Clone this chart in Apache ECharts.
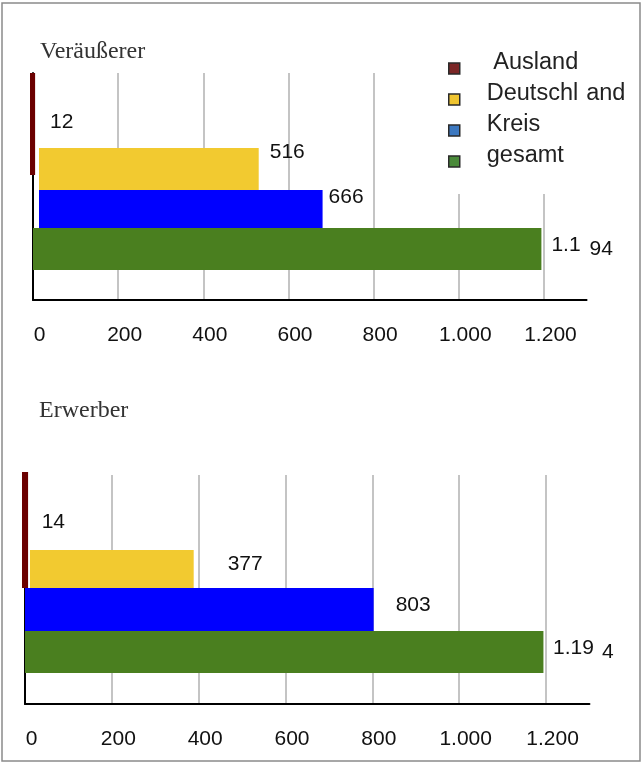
<!DOCTYPE html>
<html>
<head>
<meta charset="utf-8">
<script src="https://cdn.jsdelivr.net/npm/echarts@6/dist/echarts.min.js"></script>
<style>
html,body{margin:0;padding:0;background:#fff}
#c{width:643px;height:764px}
</style>
</head>
<body>
<div id="c"></div>
<script>
// ---- data ----
const seriesNames = [' Ausland', 'Deutschl and', 'Kreis', 'gesamt'];
const panelTitles = ['Veräußerer', 'Erwerber'];
const valuesVeraeusserer = [12, 516, 666, 1194];
const valuesErwerber = [14, 377, 803, 1194];
const xTickValues = [0, 200, 400, 600, 800, 1000, 1200];
const axisMax = 1300;

// ---- styles ----
const barColors = ['#6b0000', '#f2ca30', '#0000ff', '#4a7f1f'];
const legendColors = ['#7b2626', '#f0c530', '#3c78c0', '#4a8a3a'];
const SANS = '"Liberation Sans", Arial, sans-serif';
const SERIF = '"Liberation Serif", "Times New Roman", serif';

// ---- layout (pixels) ----
const panels = [
  { values: valuesVeraeusserer, titleLeft: 40, titleTop: 40,
    left: 33, top: 73, height: 227, scale: 0.4258, labelMargin: 25,
    bars: [
      { left: 30, top: 73,  height: 102, dist: 15, dy: -2 },
      { left: 39, top: 148, height: 42,  dist: 11, dy: -17 },
      { left: 39, top: 190, height: 38,  dist: 6,  dy: -12 },
      { left: 33, top: 228, height: 42,  dist: 10, dy: -3.5, split: 3, gap: 9 }
    ] },
  { values: valuesErwerber, titleLeft: 39, titleTop: 399,
    left: 25, top: 475, height: 229, scale: 0.4342, labelMargin: 24.5,
    bars: [
      { left: 22, top: 472, height: 116, dist: 13.6, dy: -8 },
      { left: 30, top: 550, height: 38,  dist: 34,   dy: -5 },
      { left: 25, top: 588, height: 43,  dist: 22,   dy: -4.5 },
      { left: 25, top: 631, height: 42,  dist: 9.6,  dy: -3.5, split: 4, gap: 8 }
    ] }
];

const fmt = v => v.toLocaleString('de-DE');

const grid = [], xAxis = [], yAxis = [], series = [], title = [];
const gridColors = [];
for (let i = 0; i < 7; i++) gridColors.push('#c4c4c4');
gridColors.push('rgba(0,0,0,0)');

panels.forEach((p, pi) => {
  title.push({
    text: panelTitles[pi], left: p.titleLeft, top: p.titleTop, padding: 0,
    textStyle: { fontFamily: SERIF, fontSize: 24, fontWeight: 'normal', color: '#333' }
  });
  const w = axisMax * p.scale;
  // axis grid
  const gi = grid.length;
  grid.push({ left: p.left, top: p.top, width: w, height: p.height });
  xAxis.push({
    gridIndex: gi, type: 'value', min: 0, max: axisMax, interval: 200,
    axisLine: { show: true, lineStyle: { color: '#000', width: 2 } },
    axisTick: { show: false },
    splitLine: { show: true, lineStyle: { color: gridColors, width: 2 } },
    axisLabel: {
      margin: p.labelMargin, fontFamily: SANS, fontSize: 21, color: '#111',
      padding: [0, 0, 0, 13],
      formatter: v => xTickValues.indexOf(v) >= 0 ? fmt(v) : ''
    }
  });
  yAxis.push({
    gridIndex: gi, type: 'category', data: [''],
    axisLine: { show: true, lineStyle: { color: '#000', width: 2 } },
    axisTick: { show: false }, axisLabel: { show: false }, splitLine: { show: false }
  });
  // one grid per bar
  p.bars.forEach((b, bi) => {
    const g = grid.length;
    grid.push({ left: b.left, top: b.top, width: w, height: b.height });
    xAxis.push({ gridIndex: g, type: 'value', min: 0, max: axisMax, show: false });
    yAxis.push({ gridIndex: g, type: 'category', data: [seriesNames[bi]], show: false });
    const label = {
      show: true, position: 'right', distance: b.dist, offset: [0, b.dy],
      fontFamily: SANS, fontSize: 21, color: '#111', lineHeight: 21
    };
    if (b.split) {
      label.formatter = prm => {
        const s = fmt(prm.value);
        return '{a|' + s.slice(0, b.split) + '}{b|' + s.slice(b.split) + '}';
      };
      label.rich = {
        a: { fontFamily: SANS, fontSize: 21, color: '#111', lineHeight: 21 },
        b: { fontFamily: SANS, fontSize: 21, color: '#111', lineHeight: 13, padding: [8, 0, 0, b.gap] }
      };
    } else {
      label.formatter = prm => fmt(prm.value);
    }
    series.push({
      type: 'bar', name: seriesNames[bi], xAxisIndex: g, yAxisIndex: g,
      data: [p.values[bi]], barWidth: '100%', barCategoryGap: '0%',
      itemStyle: { color: barColors[bi] }, label: label,
      silent: true, animation: false
    });
  });
});

const chart = echarts.init(document.getElementById('c'), null, { renderer: 'canvas' });
chart.setOption({
  animation: false,
  backgroundColor: '#fff',
  title: title,
  grid: grid, xAxis: xAxis, yAxis: yAxis, series: series,
  legend: {
    orient: 'vertical', left: 443, top: 46,
    padding: [5, 15, 18, 5], backgroundColor: '#fff',
    itemWidth: 11, itemHeight: 11, itemGap: -1, icon: 'rect',
    selectedMode: false,
    data: seriesNames.map((n, i) => ({
      name: n, icon: 'rect',
      itemStyle: { color: legendColors[i], borderColor: '#2a2a2a', borderWidth: 1.5 }
    })),
    formatter: n => {
      const parts = n.split(' ');
      if (parts.length === 2 && parts[0] !== '') return '{a|' + parts[0] + '}{b|' + parts[1] + '}';
      return n;
    },
    textStyle: {
      fontFamily: SANS, fontSize: 23.5, color: '#222', lineHeight: 18,
      padding: [0, 0, 11, 22],
      rich: {
        a: { fontFamily: SANS, fontSize: 23.5, color: '#222', lineHeight: 18 },
        b: { fontFamily: SANS, fontSize: 23.5, color: '#222', lineHeight: 18, padding: [0, 0, 0, 8] }
      }
    }
  },
  graphic: [{
    type: 'rect', silent: true, z: 100,
    shape: { x: 2, y: 3, width: 638, height: 758 },
    style: { fill: 'none', stroke: '#8a8a8a', lineWidth: 1.5 }
  }]
});
</script>
</body>
</html>
